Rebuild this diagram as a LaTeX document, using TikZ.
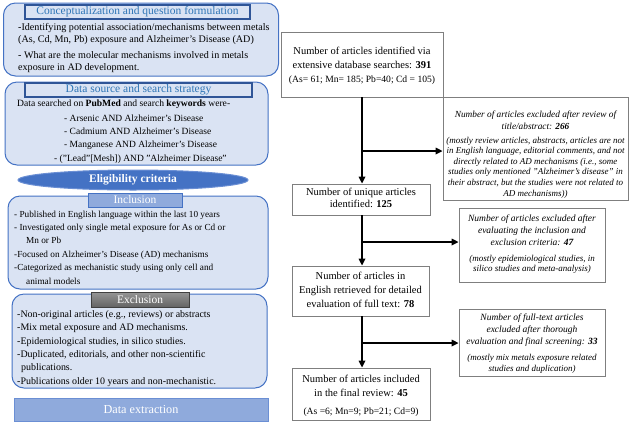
\documentclass[tikz,border=0pt]{standalone}
\usepackage{fontspec}
\setmainfont{Liberation Serif}
\usetikzlibrary{arrows.meta,shapes.geometric}
\definecolor{lb}{HTML}{DAE3F3}
\definecolor{bb}{HTML}{4472C4}
\definecolor{db}{HTML}{2F5597}
\definecolor{tb}{HTML}{2E75B6}
\definecolor{mb}{HTML}{8FAADC}
\definecolor{eb}{HTML}{6B8FD4}
\definecolor{rg}{HTML}{7F7F7F}
\definecolor{dg}{HTML}{404040}
\tikzset{
  panel/.style={draw=bb, line width=1pt, fill=lb, rounded corners=12pt, inner sep=0pt},
  ptitle/.style={draw=db, line width=1.2pt, fill=lb, inner sep=0pt, text=tb, font=\fontsize{11.5}{13}\selectfont},
  incltitle/.style={draw=bb, line width=0.8pt, fill=mb, inner sep=0pt, text=white, font=\fontsize{11.5}{13}\selectfont},
  excltitle/.style={draw=dg, line width=0.8pt, top color={rgb,255:red,150;green,150;blue,150}, bottom color={rgb,255:red,100;green,100;blue,100}, inner sep=0pt, text=white, font=\fontsize{11.5}{13}\selectfont},
  ltext/.style={anchor=west, align=left, inner sep=0pt},
  rbox/.style={draw=rg, line width=0.8pt, fill=white, inner sep=0pt},
  rtext/.style={align=center, inner sep=0pt, font=\fontsize{10.5}{14}\selectfont},
  rsmall/.style={align=center, inner sep=0pt, font=\fontsize{9.6}{11}\selectfont},
  etext/.style={align=center, inner sep=0pt, font=\fontsize{9.5}{12}\selectfont\itshape},
  esmall/.style={align=center, inner sep=0pt, font=\fontsize{9}{10.6}\selectfont\itshape},
  arr/.style={line width=1.6pt, -{Triangle[length=7pt,width=6.5pt]}}
}
\begin{document}
\begin{tikzpicture}[x=1pt,y=-1pt]
\useasboundingbox (0,0) rectangle (639,424);
% ---------- left column ----------
\node[panel, minimum width=275pt, minimum height=73pt] (p1) at (141,39.5) {};
\node[ptitle, minimum width=225pt, minimum height=14pt] (t1) at (137.5,12) {Conceptualization and question formulation};
\node[ltext, font=\fontsize{10.1}{12.5}\selectfont] (p1a) at (18,34) {-Identifying potential association/mechanisms between metals\\(As, Cd, Mn, Pb) exposure and Alzheimer’s Disease (AD)};
\node[ltext, font=\fontsize{10.1}{12.5}\selectfont] (p1b) at (18,62) {- What are the molecular mechanisms involved in metals\\exposure in AD development.};

\node[panel, minimum width=263pt, minimum height=83pt] (p2) at (136.5,123.5) {};
\node[ptitle, minimum width=227pt, minimum height=14pt] (t2) at (138.5,90) {Data source and search strategy};
\node[ltext, font=\fontsize{9.6}{13.3}\selectfont] (p2a) at (17,104) {Data searched on \textbf{PubMed} and search \textbf{keywords} were-};
\node[ltext, font=\fontsize{9.5}{13.3}\selectfont] (p2b) at (64,139) {- Arsenic AND Alzheimer’s Disease\\- Cadmium AND Alzheimer’s Disease\\- Manganese AND Alzheimer’s Disease\\\hspace*{-10pt}- ("Lead"[Mesh]) AND "Alzheimer Disease"};

\node[ellipse, fill=bb, draw=eb, line width=1pt, minimum width=230pt, minimum height=20pt, inner sep=0pt, text=white, font=\fontsize{11.5}{13}\selectfont\bfseries] (ell) at (133,180) {Eligibility criteria};

\node[panel, minimum width=260pt, minimum height=93pt] (p3) at (138,242.5) {};
\node[incltitle, minimum width=94pt, minimum height=14pt] (t3) at (135,200) {Inclusion};
\node[ltext, font=\fontsize{9.25}{13.4}\selectfont] (p3a) at (14,247.5) {- Published in English language within the last 10 years\\- Investigated only single metal exposure for As or Cd or\\\hspace*{12pt}Mn or Pb\\-Focused on Alzheimer’s Disease (AD) mechanisms\\-Categorized as mechanistic study using only cell and\\\hspace*{12pt}animal models};

\node[panel, minimum width=255pt, minimum height=94pt] (p4) at (139.5,341) {};
\node[excltitle, minimum width=98pt, minimum height=15pt] (t4) at (140,299.5) {Exclusion};
\node[ltext, font=\fontsize{9.95}{13.4}\selectfont] (p4a) at (17,348.5) {-Non-original articles (e.g., reviews) or abstracts\\-Mix metal exposure and AD mechanisms.\\-Epidemiological studies, in silico studies.\\-Duplicated, editorials, and other non-scientific\\\hspace*{4pt}publications.\\-Publications older 10 years and non-mechanistic.};

\node[draw=eb, line width=0.8pt, fill=mb, minimum width=254pt, minimum height=23pt, inner sep=0pt, text=white, font=\fontsize{12.2}{14}\selectfont] (dx) at (141,409.5) {Data extraction};

% ---------- right column ----------
\node[rbox, minimum width=162pt, minimum height=65pt] (A) at (362,64.5) {};
\node[rtext] (Aa) at (362,58) {Number of articles identified via\\extensive database searches: \textbf{391}};
\node[rsmall] (Ab) at (362,80) {(As= 61; Mn= 185; Pb=40; Cd = 105)};

\node[rbox, minimum width=185pt, minimum height=103pt] (E1) at (535.5,148.5) {};
\node[etext, font=\fontsize{9.3}{12}\selectfont\itshape] (E1a) at (535.5,120.5) {Number of articles excluded after review of\\title/abstract: \textbf{266}};
\node[esmall] (E1b) at (535.5,167.5) {(mostly review articles, abstracts, articles are not\\in English language, editorial comments, and not\\directly related to AD mechanisms (i.e., some\\studies only mentioned "Alzheimer's disease" in\\their abstract, but the studies were not related to\\AD mechanisms))};

\node[rbox, minimum width=138pt, minimum height=31pt] (B) at (361,199.5) {};
\node[rtext, font=\fontsize{10.5}{12.5}\selectfont] (Ba) at (361,198) {Number of unique articles\\identified: \textbf{125}};

\node[rbox, minimum width=146pt, minimum height=74pt] (E2) at (532,245) {};
\node[etext] (E2a) at (532,230) {Number of articles excluded after\\evaluating the inclusion and\\exclusion criteria: \textbf{47}};
\node[esmall] (E2b) at (532,264.5) {(mostly epidemiological studies, in\\silico studies and meta-analysis)};

\node[rbox, minimum width=137pt, minimum height=50pt] (C) at (360.5,291) {};
\node[rtext] (Ca) at (360.5,290) {Number of articles in\\English retrieved for detailed\\evaluation of full text: \textbf{78}};

\node[rbox, minimum width=146pt, minimum height=67pt] (E3) at (532,342.5) {};
\node[etext] (E3a) at (532,330.5) {Number of full-text articles\\excluded after thorough\\evaluation and final screening: \textbf{33}};
\node[esmall] (E3b) at (532,364) {(mostly mix metals exposure related\\studies and duplication)};

\node[rbox, minimum width=138pt, minimum height=52pt] (D) at (361,394) {};
\node[rtext] (Da) at (361,385.5) {Number of articles included\\in the final review: \textbf{45}};
\node[rsmall] (Db) at (361,412) {(As =6; Mn=9; Pb=21; Cd=9)};

% ---------- connectors ----------
\coordinate (j1) at (362,151);
\coordinate (j2) at (362,242);
\coordinate (j3) at (362,343);
\draw[arr] (A.south) -- (A.south |- B.north);
\draw[arr] (j1) -- (j1 -| E1.west);
\draw[arr] (A.south |- B.south) -- (A.south |- C.north);
\draw[arr] (j2) -- (j2 -| E2.west);
\draw[arr] (A.south |- C.south) -- (A.south |- D.north);
\draw[arr] (j3) -- (j3 -| E3.west);
\end{tikzpicture}
\end{document}
